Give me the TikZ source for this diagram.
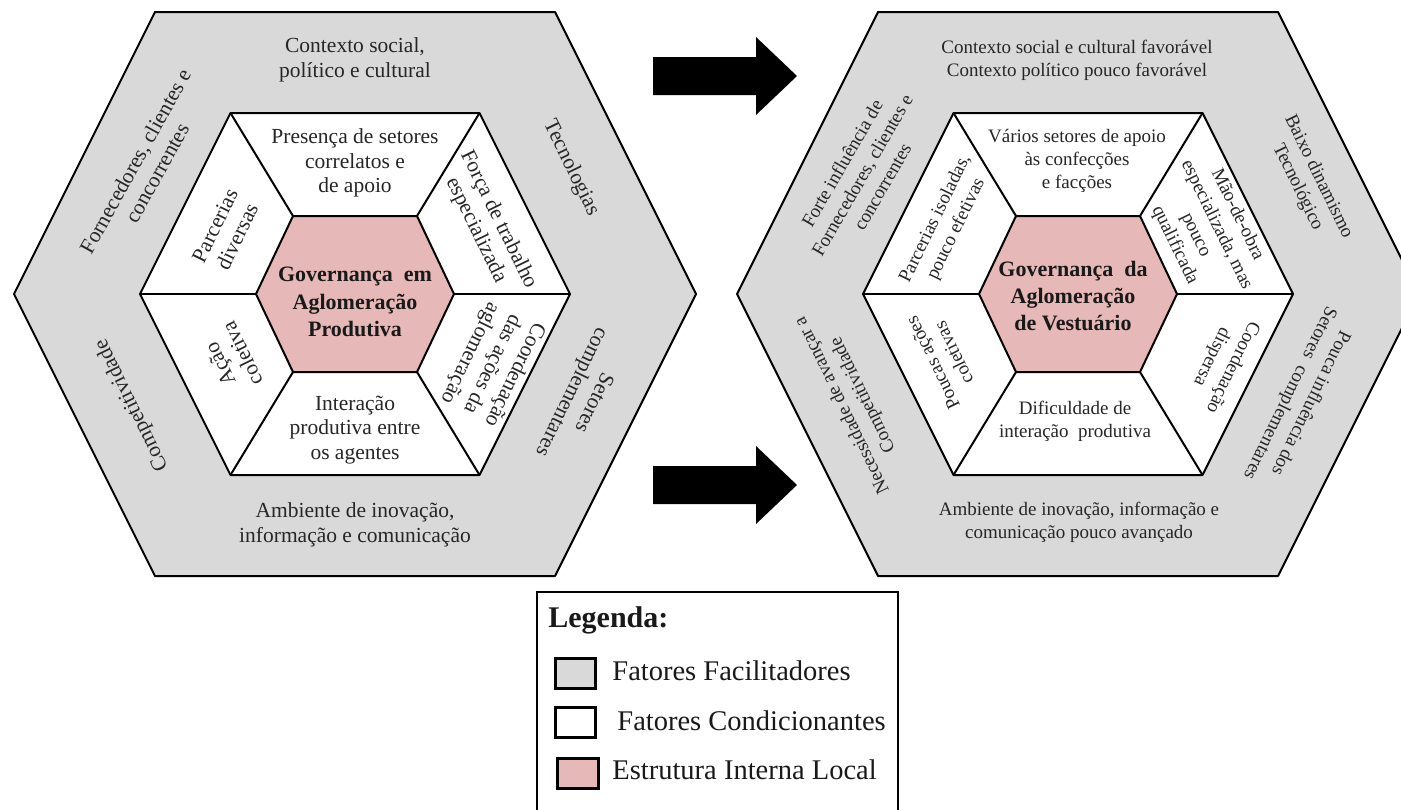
\documentclass[tikz,border=0pt]{standalone}
\usepackage{fontspec}
\setmainfont{Liberation Serif}
\definecolor{hexgray}{HTML}{D9D9D9}
\definecolor{hexpink}{HTML}{E6B9B8}
\definecolor{txt}{HTML}{262626}
\tikzset{
  outerhex/.style={fill=hexgray, draw=black, line width=1pt, line join=round},
  innerhex/.style={fill=white, draw=black, line width=1pt, line join=round},
  corehex/.style={fill=hexpink, draw=black, line width=1pt, line join=round},
  spoke/.style={draw=black, line width=1pt},
  lbl/.style={align=center, text=txt, inner sep=0pt, font=\fontsize{10.75}{12.4}\selectfont},
  lblr/.style={lbl, font=\fontsize{9.5}{11.6}\selectfont},
  core/.style={align=center, text=black!90, inner sep=0pt, font=\bfseries\fontsize{11}{13.6}\selectfont},
  blockarrow/.style={fill=black},
  swatch/.style={draw=black, line width=1.5pt},
  legtxt/.style={anchor=base west, inner sep=0pt, text=black!90, font=\fontsize{14.25}{16}\selectfont},
  legtitle/.style={anchor=base west, inner sep=0pt, text=black!90, font=\bfseries\fontsize{15}{17}\selectfont},
}
\newcommand{\hexunit}[2]{%
  \path[outerhex] (#1-341,#2) -- (#1-200,#2-282) -- (#1+200,#2-282) -- (#1+341,#2) -- (#1+200,#2+282) -- (#1-200,#2+282) -- cycle;
  \path[innerhex] (#1-215,#2) -- (#1-124.5,#2-181) -- (#1+124.5,#2-181) -- (#1+215,#2) -- (#1+124.5,#2+181) -- (#1-124.5,#2+181) -- cycle;
  \path[corehex] (#1-99,#2) -- (#1-62,#2-78) -- (#1+62,#2-78) -- (#1+99,#2) -- (#1+62,#2+78) -- (#1-62,#2+78) -- cycle;
  \path[spoke] (#1-99,#2) -- (#1-215,#2);
  \path[spoke] (#1+99,#2) -- (#1+215,#2);
  \path[spoke] (#1-62,#2-78) -- (#1-124.5,#2-181);
  \path[spoke] (#1+62,#2-78) -- (#1+124.5,#2-181);
  \path[spoke] (#1-62,#2+78) -- (#1-124.5,#2+181);
  \path[spoke] (#1+62,#2+78) -- (#1+124.5,#2+181);
}
\begin{document}
\begin{tikzpicture}[x=0.5pt,y=-0.5pt]
\useasboundingbox (0,0) rectangle (1401,809);
\clip (0,0) rectangle (1401,809);

% ---------- left hexagon ----------
\hexunit{355}{294}
\node[lbl] (l-top) at (355,60) {Contexto social,\\político e cultural};
\node[lbl, rotate=61] (l-ul) at (146,167) {Fornecedores, clientes e\\concorrentes};
\node[lbl, rotate=-64] (l-ur) at (571,168) {Tecnologias};
\node[lbl, rotate=116] (l-ll) at (132,405) {Competitividade};
\node[lbl, rotate=-116] (l-lr) at (582,397) {Setores\\complementares};
\node[lbl] (l-bot) at (355,525) {Ambiente de inovação,\\informação e comunicação};
\node[lbl] (l-wtop) at (355,163) {Presença de setores\\correlatos e\\de apoio};
\node[lbl, rotate=64] (l-wul) at (226,231) {Parcerias\\diversas};
\node[lbl, rotate=-64] (l-wur) at (487,225) {Força de trabalho\\especializada};
\node[lbl, rotate=116] (l-wll) at (231,359) {Ação\\coletiva};
\node[lbl, rotate=-116] (l-wlr) at (492,364) {Coordenação\\das ações da\\aglomeração};
\node[lbl] (l-wbot) at (355,430) {Interação\\produtiva entre\\os agentes};
\node[core] (l-core) at (355,302) {Governança~ em\\Aglomeração\\Produtiva};

% ---------- right hexagon ----------
\hexunit{1078}{294}
\node[lblr] (r-top) at (1077,60) {Contexto social e cultural favorável\\Contexto político pouco favorável};
\node[lblr, rotate=60] (r-ul) at (862,175) {Forte influência de\\Fornecedores, clientes e\\concorrentes};
\node[lblr, rotate=-64] (r-ur) at (1308,182) {Baixo dinamismo\\Tecnológico};
\node[lblr, rotate=116] (r-ll) at (853,400) {Necessidade de avançar a\\Competitividade};
\node[lblr, rotate=-116] (r-lr) at (1300,398) {Pouca influência dos\\Setores~ complementares};
\node[lblr] (r-bot) at (1079,522) {Ambiente de inovação, informação e\\comunicação pouco avançado};
\node[lblr] (r-wtop) at (1077,161) {Vários setores de apoio\\às confecções\\e facções};
\node[lblr, rotate=64] (r-wul) at (946,224) {Parcerias isoladas,\\pouco efetivas};
\node[lblr, rotate=-64] (r-wur) at (1206,230) {Mão-de-obra\\especializada, mas\\pouco\\qualificada};
\node[lblr, rotate=116] (r-wll) at (943,358) {Poucas ações\\coletivas};
\node[lblr, rotate=-116] (r-wlr) at (1222,362) {Coordenação\\dispersa};
\node[lblr] (r-wbot) at (1075,421) {Dificuldade de\\interação~ produtiva};
\node[core] (r-core) at (1073,296) {Governança~ da\\Aglomeração\\de Vestuário};

% ---------- block arrows ----------
\path[blockarrow] (653,57) -- (756,57) -- (756,37) -- (797,76) -- (756,115) -- (756,95) -- (653,95) -- cycle;
\path[blockarrow] (653,466) -- (756,466) -- (756,446) -- (797,485) -- (756,524) -- (756,504) -- (653,504) -- cycle;

% ---------- legend ----------
\draw[line width=1pt] (537,592) rectangle (898,840);
\node[legtitle] (leg-title) at (548,627) {Legenda:};
\path[swatch, fill=hexgray] (555,658) rectangle (595,688);
\path[swatch, fill=white] (555,707) rectangle (595,737);
\path[swatch, fill=hexpink] (557,758) rectangle (598,788);
\node[legtxt] (leg-a) at (612,680) {Fatores Facilitadores};
\node[legtxt] (leg-b) at (617,730) {Fatores Condicionantes};
\node[legtxt] (leg-c) at (612,779) {Estrutura Interna Local};
\end{tikzpicture}
\end{document}
